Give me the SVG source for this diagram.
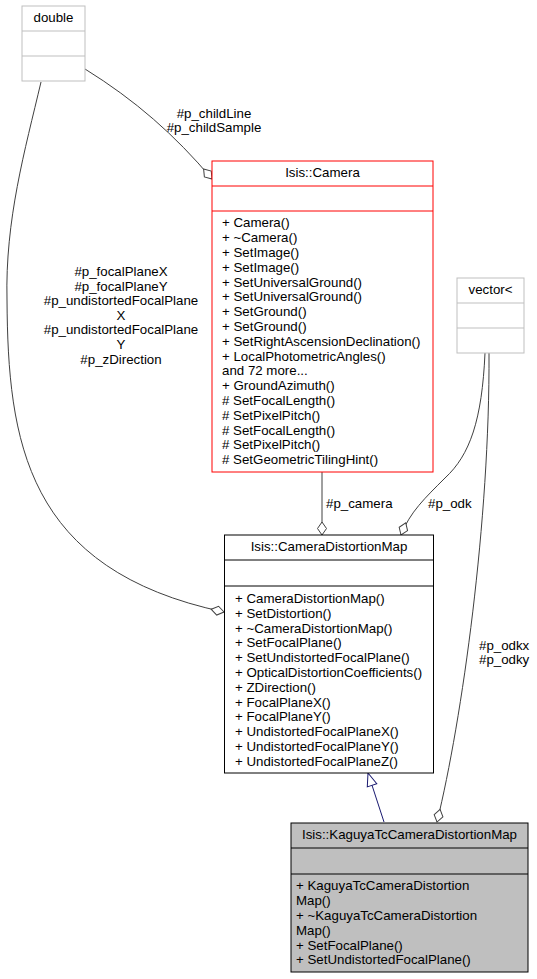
<svg xmlns="http://www.w3.org/2000/svg" width="537" height="979" viewBox="0 0 537 979">
<defs>
<style>
text{font-family:"Liberation Sans",Arial,Helvetica,sans-serif;font-size:13.3px;fill:#000}
.c{text-anchor:middle}
.box{fill:#fff;stroke:#000;stroke-width:1}
.gray{fill:#fff;stroke:#bfbfbf;stroke-width:1}
.red{fill:#fff;stroke:#ff0000;stroke-width:1}
.kag{fill:#bfbfbf;stroke:#000;stroke-width:1}
.e{fill:none;stroke:#404040;stroke-width:1}
.inh{fill:none;stroke:#191970;stroke-width:1}
</style>
<marker id="dia" markerUnits="userSpaceOnUse" viewBox="-1 -6 15 12" markerWidth="15" markerHeight="12" refX="13" refY="0" orient="auto">
<path d="M0,0 L6.5,-4.5 L13,0 L6.5,4.5 Z" fill="#fff" stroke="#404040" stroke-width="1"/>
</marker>
<marker id="tri" markerUnits="userSpaceOnUse" viewBox="-1 -6 15 12" markerWidth="15" markerHeight="12" refX="13" refY="0" orient="auto">
<path d="M0,-5 L13,0 L0,5 Z" fill="#fff" stroke="#191970" stroke-width="1"/>
</marker>
</defs>
<rect width="537" height="979" fill="#fff"/>

<g id="connectors">
<path class="e" d="M85,69 C135,100 175,135 212,179" marker-end="url(#dia)"/>
<path class="e" d="M41,82 C25,150 5,220 7,300 C8,440 25,570 224,612" marker-end="url(#dia)"/>
<path class="e" d="M322,472 L322,535" marker-end="url(#dia)"/>
<path class="e" d="M485,353 C482,420 470,455 445,478 C425,498 410,512 401,535" marker-end="url(#dia)"/>
<path class="e" d="M489,353 C490,520 462,720 437,822" marker-end="url(#dia)"/>
<path class="inh" d="M384,822 L368,773" marker-end="url(#tri)"/>
<text class="c" x="214" y="117.5">#p_childLine</text>
<text class="c" x="214" y="132.3">#p_childSample</text>
<text class="c" x="121" y="276">#p_focalPlaneX</text>
<text class="c" x="121" y="290.6">#p_focalPlaneY</text>
<text class="c" x="121" y="305.2">#p_undistortedFocalPlane</text>
<text class="c" x="121" y="319.8">X</text>
<text class="c" x="121" y="334.4">#p_undistortedFocalPlane</text>
<text class="c" x="121" y="349">Y</text>
<text class="c" x="121" y="363.6">#p_zDirection</text>
<text x="326" y="507.5">#p_camera</text>
<text x="428" y="507.5">#p_odk</text>
<text x="479" y="649.5">#p_odkx</text>
<text x="479" y="664.3">#p_odky</text>
</g>

<g id="double">
<rect class="gray" x="22" y="6" width="63" height="75"/>
<line class="gray" x1="22" y1="31" x2="85" y2="31"/>
<line class="gray" x1="22" y1="56" x2="85" y2="56"/>
<text class="c" x="53.5" y="22.3">double</text>
</g>

<g id="camera">
<rect class="red" x="212" y="161" width="221" height="311"/>
<line class="red" x1="212" y1="186" x2="433" y2="186"/>
<line class="red" x1="212" y1="211" x2="433" y2="211"/>
<text class="c" x="322.5" y="177.3">Isis::Camera</text>
<text x="222" y="227.3">+ Camera()</text>
<text x="222" y="242.1">+ ~Camera()</text>
<text x="222" y="256.9">+ SetImage()</text>
<text x="222" y="271.7">+ SetImage()</text>
<text x="222" y="286.5">+ SetUniversalGround()</text>
<text x="222" y="301.3">+ SetUniversalGround()</text>
<text x="222" y="316.1">+ SetGround()</text>
<text x="222" y="330.9">+ SetGround()</text>
<text x="222" y="345.7">+ SetRightAscensionDeclination()</text>
<text x="222" y="360.5">+ LocalPhotometricAngles()</text>
<text x="222" y="375.3">and 72 more...</text>
<text x="222" y="390.1">+ GroundAzimuth()</text>
<text x="222" y="404.9"># SetFocalLength()</text>
<text x="222" y="419.7"># SetPixelPitch()</text>
<text x="222" y="434.5"># SetFocalLength()</text>
<text x="222" y="449.3"># SetPixelPitch()</text>
<text x="222" y="464.1"># SetGeometricTilingHint()</text>
</g>

<g id="vector">
<rect class="gray" x="457" y="278" width="67" height="75"/>
<line class="gray" x1="457" y1="303" x2="524" y2="303"/>
<line class="gray" x1="457" y1="328" x2="524" y2="328"/>
<text class="c" x="490.5" y="294.3">vector&lt;</text>
</g>

<g id="cameradistortionmap">
<rect class="box" x="224.5" y="535" width="209" height="238"/>
<line class="box" x1="224.5" y1="560" x2="433.5" y2="560"/>
<line class="box" x1="224.5" y1="586" x2="433.5" y2="586"/>
<text class="c" x="329" y="551.3">Isis::CameraDistortionMap</text>
<text x="235" y="603">+ CameraDistortionMap()</text>
<text x="235" y="617.8">+ SetDistortion()</text>
<text x="235" y="632.6">+ ~CameraDistortionMap()</text>
<text x="235" y="647.4">+ SetFocalPlane()</text>
<text x="235" y="662.2">+ SetUndistortedFocalPlane()</text>
<text x="235" y="677">+ OpticalDistortionCoefficients()</text>
<text x="235" y="691.8">+ ZDirection()</text>
<text x="235" y="706.6">+ FocalPlaneX()</text>
<text x="235" y="721.4">+ FocalPlaneY()</text>
<text x="235" y="736.2">+ UndistortedFocalPlaneX()</text>
<text x="235" y="751">+ UndistortedFocalPlaneY()</text>
<text x="235" y="765.8">+ UndistortedFocalPlaneZ()</text>
</g>

<g id="kaguyatccameradistortionmap">
<rect class="kag" x="291" y="823" width="237" height="149"/>
<line class="kag" x1="291" y1="848" x2="528" y2="848"/>
<line class="kag" x1="291" y1="874" x2="528" y2="874"/>
<text class="c" x="409.5" y="839.3">Isis::KaguyaTcCameraDistortionMap</text>
<text x="296" y="890.3">+ KaguyaTcCameraDistortion</text>
<text x="296" y="905.1">Map()</text>
<text x="296" y="919.9">+ ~KaguyaTcCameraDistortion</text>
<text x="296" y="934.7">Map()</text>
<text x="296" y="949.5">+ SetFocalPlane()</text>
<text x="296" y="964.3">+ SetUndistortedFocalPlane()</text>
</g>
</svg>
